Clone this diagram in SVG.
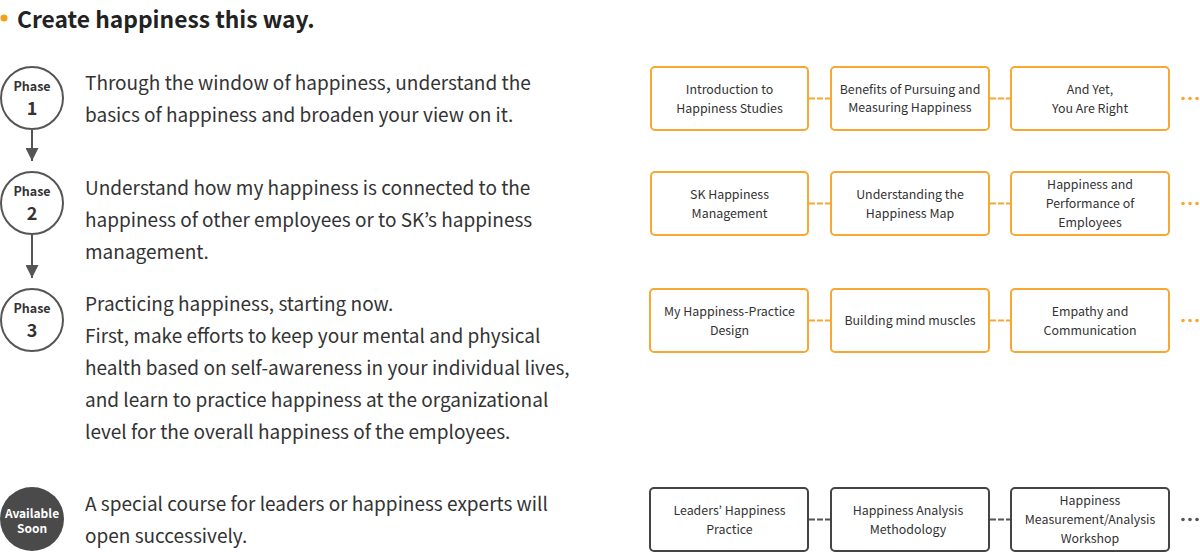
<svg xmlns="http://www.w3.org/2000/svg" width="1200" height="552" viewBox="0 0 1200 552">
<style>
text{font-family:"Noto Sans CJK KR","Noto Sans",sans-serif;fill:#333}
.title{font-size:22.8px;font-weight:bold;fill:#222}
.desc{font-size:19px;fill:#333}
.ph{font-size:12.5px;font-weight:bold;text-anchor:middle;fill:#333}
.num{font-size:18px;font-weight:bold;text-anchor:middle;fill:#333}
.circ{fill:#fff;stroke:#555;stroke-width:2}
.box{fill:#fff;stroke:#f8a733;stroke-width:2}
.gbox{fill:#fff;stroke:#444;stroke-width:2}
.bt{font-size:12.4px;text-anchor:middle;fill:#333}
.dash{stroke:#f8a733;stroke-width:2;stroke-dasharray:6 2;fill:none}
.gdash{stroke:#555;stroke-width:2;stroke-dasharray:6 2;fill:none}
.dot{fill:#f8a733}
.gdot{fill:#555}
.arr{stroke:#555;stroke-width:2;fill:none}
</style>
<defs>
<marker id="ah2" viewBox="0 0 12 12" refX="12" refY="6" markerWidth="14" markerHeight="13" markerUnits="userSpaceOnUse" orient="auto">
<path d="M0,0 L12,6 L0,12 z" fill="#555"/>
</marker>
</defs>
<circle cx="4" cy="18" r="3.5" fill="#f5a01a"/>
<text class="title" x="17" y="28">Create happiness this way.</text>

<g id="connectors">
<line class="arr" x1="32" y1="130" x2="32" y2="161" marker-end="url(#ah2)"/>
<line class="arr" x1="32" y1="235" x2="32" y2="278" marker-end="url(#ah2)"/>
<line class="dash" x1="809" y1="98.5" x2="830" y2="98.5"/>
<line class="dash" x1="990" y1="98.5" x2="1010" y2="98.5"/>
<line class="dash" x1="809" y1="203.5" x2="830" y2="203.5"/>
<line class="dash" x1="990" y1="203.5" x2="1010" y2="203.5"/>
<line class="dash" x1="809" y1="320.5" x2="830" y2="320.5"/>
<line class="dash" x1="990" y1="320.5" x2="1010" y2="320.5"/>
<line class="gdash" x1="809" y1="519.5" x2="830" y2="519.5"/>
<line class="gdash" x1="990" y1="519.5" x2="1010" y2="519.5"/>
</g>

<g id="phase1">
<circle class="circ" cx="32" cy="98" r="31"/>
<text class="ph" x="32" y="91">Phase</text>
<text class="num" x="32" y="115">1</text>
<text class="desc" x="85" y="90">Through the window of happiness, understand the</text>
<text class="desc" x="85" y="122">basics of happiness and broaden your view on it.</text>
</g>
<g id="phase2">
<circle class="circ" cx="32" cy="203" r="31"/>
<text class="ph" x="32" y="196">Phase</text>
<text class="num" x="32" y="220">2</text>
<text class="desc" x="85" y="195">Understand how my happiness is connected to the</text>
<text class="desc" x="85" y="227">happiness of other employees or to SK’s happiness</text>
<text class="desc" x="85" y="259">management.</text>
</g>
<g id="phase3">
<circle class="circ" cx="32" cy="320" r="31"/>
<text class="ph" x="32" y="313">Phase</text>
<text class="num" x="32" y="337">3</text>
<text class="desc" x="85" y="311">Practicing happiness, starting now.</text>
<text class="desc" x="85" y="343">First, make efforts to keep your mental and physical</text>
<text class="desc" x="85" y="375">health based on self-awareness in your individual lives,</text>
<text class="desc" x="85" y="407">and learn to practice happiness at the organizational</text>
<text class="desc" x="85" y="439">level for the overall happiness of the employees.</text>
</g>
<g id="soon">
<circle cx="32" cy="519" r="32" fill="#4a4a4a"/>
<text class="ph" x="32" y="518" style="fill:#fff;font-size:12px">Available</text>
<text class="ph" x="32" y="533" style="fill:#fff;font-size:12px">Soon</text>
<text class="desc" x="85" y="511">A special course for leaders or happiness experts will</text>
<text class="desc" x="85" y="543">open successively.</text>
</g>

<g id="r1b1"><rect class="box" x="651" y="67" width="157" height="63" rx="4"/><text class="bt" x="729.5" y="94">Introduction to</text><text class="bt" x="729.5" y="113">Happiness Studies</text></g>
<g id="r1b2"><rect class="box" x="831" y="67" width="158" height="63" rx="4"/><text class="bt" x="910" y="94">Benefits of Pursuing and</text><text class="bt" x="910" y="112">Measuring Happiness</text></g>
<g id="r1b3"><rect class="box" x="1011" y="67" width="158" height="63" rx="4"/><text class="bt" x="1090" y="94">And Yet,</text><text class="bt" x="1090" y="113">You Are Right</text></g>
<g id="r1more"><circle class="dot" cx="1183" cy="98.5" r="1.8"/><circle class="dot" cx="1190" cy="98.5" r="1.8"/><circle class="dot" cx="1197" cy="98.5" r="1.8"/></g>

<g id="r2b1"><rect class="box" x="651" y="172" width="157" height="63" rx="4"/><text class="bt" x="729.5" y="199">SK Happiness</text><text class="bt" x="729.5" y="218">Management</text></g>
<g id="r2b2"><rect class="box" x="831" y="172" width="158" height="63" rx="4"/><text class="bt" x="910" y="199">Understanding the</text><text class="bt" x="910" y="218">Happiness Map</text></g>
<g id="r2b3"><rect class="box" x="1011" y="172" width="158" height="63" rx="4"/><text class="bt" x="1090" y="189">Happiness and</text><text class="bt" x="1090" y="208">Performance of</text><text class="bt" x="1090" y="227">Employees</text></g>
<g id="r2more"><circle class="dot" cx="1183" cy="203.5" r="1.8"/><circle class="dot" cx="1190" cy="203.5" r="1.8"/><circle class="dot" cx="1197" cy="203.5" r="1.8"/></g>

<g id="r3b1"><rect class="box" x="650" y="289" width="158" height="63" rx="4"/><text class="bt" x="729.5" y="316">My Happiness-Practice</text><text class="bt" x="729.5" y="335">Design</text></g>
<g id="r3b2"><rect class="box" x="831" y="289" width="158" height="63" rx="4"/><text class="bt" x="910" y="325">Building mind muscles</text></g>
<g id="r3b3"><rect class="box" x="1011" y="289" width="158" height="63" rx="4"/><text class="bt" x="1090" y="316">Empathy and</text><text class="bt" x="1090" y="335">Communication</text></g>
<g id="r3more"><circle class="dot" cx="1183" cy="320.5" r="1.8"/><circle class="dot" cx="1190" cy="320.5" r="1.8"/><circle class="dot" cx="1197" cy="320.5" r="1.8"/></g>

<g id="r4b1"><rect class="gbox" x="650" y="488" width="158" height="63" rx="4"/><text class="bt" x="729.5" y="515">Leaders’ Happiness</text><text class="bt" x="729.5" y="534">Practice</text></g>
<g id="r4b2"><rect class="gbox" x="831" y="488" width="158" height="63" rx="4"/><text class="bt" x="908" y="515">Happiness Analysis</text><text class="bt" x="908" y="534">Methodology</text></g>
<g id="r4b3"><rect class="gbox" x="1011" y="488" width="158" height="63" rx="4"/><text class="bt" x="1090" y="505">Happiness</text><text class="bt" x="1090" y="524">Measurement/Analysis</text><text class="bt" x="1090" y="543">Workshop</text></g>
<g id="r4more"><circle class="gdot" cx="1183" cy="519.5" r="1.8"/><circle class="gdot" cx="1190" cy="519.5" r="1.8"/><circle class="gdot" cx="1197" cy="519.5" r="1.8"/></g>
</svg>
